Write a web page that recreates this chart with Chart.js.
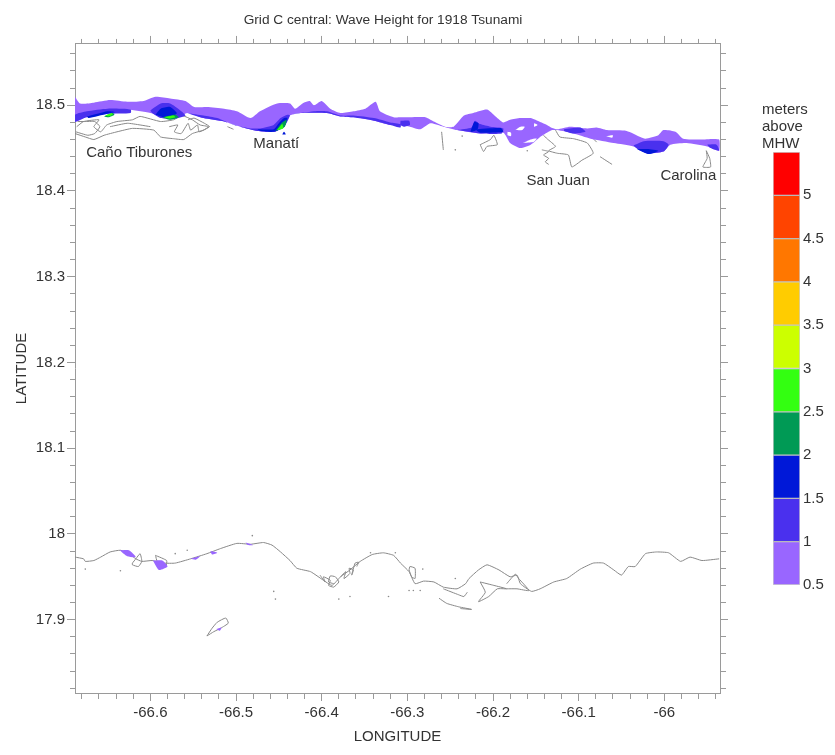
<!DOCTYPE html>
<html>
<head>
<meta charset="utf-8">
<title>Grid C central</title>
<script src="https://cdn.jsdelivr.net/npm/chart.js@4/dist/chart.umd.min.js"></script>
<style>
  html, body { margin: 0; padding: 0; background: #fff; }
  #wrap { position: relative; width: 835px; height: 755px; overflow: hidden; }
  #mapChart { position: absolute; left: 0; top: 0; }
  #barChart { position: absolute; left: 740px; top: 90px; }
</style>
</head>
<body>
<div id="wrap">
  <canvas id="mapChart" width="835" height="755"></canvas>
  <canvas id="barChart" width="95" height="515"></canvas>
</div>
<script>
const titleText = 'Grid C central: Wave Height for 1918 Tsunami';
const legendLines = ['meters', 'above', 'MHW'];
const bandEdges = [0.5, 1, 1.5, 2, 2.5, 3, 3.5, 4, 4.5, 5, 5.5];
const bandColors = ['#9966ff', '#4a30ee', '#0018d8', '#009a55', '#33ff11', '#ccff00', '#ffcc00', '#ff7700', '#ff4400', '#ff0000'];

const placeNames = ['Caño Tiburones', 'Manatí', 'San Juan', 'Carolina'];
const placeLon = [-66.613, -66.453, -66.124, -65.972];
const placeLat = [18.444, 18.455, 18.412, 18.4175];

// 0.5 - 1 m, north shore
const floodLight = [
  [-66.688,18.510],[-66.682,18.502],[-66.666,18.503],[-66.647,18.506],[-66.627,18.504],[-66.608,18.505],
  [-66.594,18.510],[-66.577,18.508],[-66.559,18.505],[-66.549,18.498],[-66.534,18.498],[-66.514,18.496],
  [-66.499,18.493],[-66.483,18.485],[-66.472,18.493],[-66.452,18.502],[-66.437,18.502],[-66.431,18.496],
  [-66.421,18.503],[-66.414,18.505],[-66.409,18.500],[-66.400,18.505],[-66.390,18.496],[-66.378,18.491],
  [-66.363,18.493],[-66.349,18.496],[-66.337,18.504],[-66.332,18.493],[-66.316,18.486],[-66.308,18.486],
  [-66.297,18.486],[-66.279,18.486],[-66.269,18.481],[-66.256,18.475],[-66.246,18.475],[-66.234,18.488],
  [-66.223,18.491],[-66.207,18.495],[-66.197,18.487],[-66.188,18.480],[-66.180,18.483],[-66.168,18.485],
  [-66.156,18.485],[-66.145,18.4805],[-66.137,18.477],[-66.131,18.4735],[-66.125,18.472],[-66.110,18.475],
  [-66.090,18.473],[-66.079,18.474],[-66.067,18.471],[-66.044,18.470],[-66.028,18.463],[-66.022,18.461],
  [-66.007,18.465],[-66.001,18.471],[-65.987,18.469],[-65.978,18.461],[-65.958,18.460],[-65.936,18.460],
  [-65.936,18.447],[-65.950,18.452],[-65.974,18.456],[-65.993,18.454],[-66.001,18.446],[-66.020,18.444],
  [-66.036,18.452],[-66.059,18.456],[-66.086,18.461],[-66.106,18.467],[-66.125,18.471],[-66.131,18.471],
  [-66.137,18.468],[-66.145,18.463],[-66.156,18.454],[-66.168,18.450],[-66.180,18.456],[-66.188,18.468],
  [-66.215,18.467],[-66.242,18.471],[-66.258,18.475],[-66.273,18.479],[-66.285,18.472],[-66.297,18.475],
  [-66.308,18.477],[-66.320,18.477],[-66.339,18.482],[-66.363,18.486],[-66.378,18.487],[-66.394,18.491],
  [-66.425,18.491],[-66.437,18.488],[-66.444,18.475],[-66.456,18.469],[-66.475,18.470],[-66.495,18.475],
  [-66.514,18.481],[-66.538,18.485],[-66.557,18.491],[-66.565,18.487],[-66.584,18.486],[-66.600,18.491],
  [-66.627,18.495],[-66.654,18.493],[-66.670,18.489],[-66.686,18.481],[-66.688,18.481]
];
// gaps left dry inside the 0.5 - 1 m area
const dryA = [[-66.174,18.471],[-66.168,18.475],[-66.163,18.475],[-66.166,18.471]];
const dryB = [[-66.165,18.456],[-66.156,18.460],[-66.149,18.461],[-66.153,18.457]];
const dryC = [[-66.183,18.469],[-66.179,18.468],[-66.179,18.464],[-66.183,18.465]];
const dryD = [[-66.152,18.479],[-66.148,18.477],[-66.152,18.475]];
const dryE = [[-66.068,18.464],[-66.060,18.465],[-66.061,18.462]];

// 0.5 - 1 m, south shore
const southA = [[-66.636,17.981],[-66.625,17.981],[-66.617,17.973],[-66.627,17.974]];
const southB = [[-66.597,17.969],[-66.586,17.969],[-66.580,17.962],[-66.590,17.958]];
const southC = [[-66.553,17.971],[-66.542,17.974],[-66.547,17.970]];
const southD = [[-66.530,17.980],[-66.522,17.978],[-66.528,17.976]];
const southE = [[-66.489,17.990],[-66.480,17.987],[-66.486,17.987]];
const southF = [[-66.523,17.889],[-66.517,17.891],[-66.519,17.887]];

// 1 - 1.5 m
const midA = [[-66.688,18.4805],[-66.688,18.489],[-66.674,18.493],[-66.650,18.496],[-66.623,18.495],[-66.623,18.491],[-66.650,18.490],[-66.674,18.486]];
const midB = [[-66.600,18.494],[-66.588,18.502],[-66.577,18.502],[-66.565,18.494],[-66.559,18.488],[-66.573,18.484],[-66.588,18.485],[-66.598,18.491]];
const midC = [[-66.557,18.491],[-66.538,18.488],[-66.522,18.485],[-66.510,18.480],[-66.499,18.476],[-66.483,18.473],[-66.472,18.473],[-66.456,18.477],[-66.448,18.485],[-66.440,18.489],[-66.437,18.488],[-66.444,18.475],[-66.456,18.469],[-66.475,18.470],[-66.495,18.475],[-66.514,18.481],[-66.538,18.485]];
const midD = [[-66.437,18.489],[-66.409,18.493],[-66.394,18.493],[-66.378,18.488],[-66.363,18.488],[-66.339,18.485],[-66.320,18.480],[-66.308,18.478],[-66.308,18.474],[-66.320,18.477],[-66.339,18.482],[-66.363,18.486],[-66.378,18.487],[-66.394,18.491],[-66.425,18.491]];
const midE = [[-66.308,18.482],[-66.298,18.482],[-66.297,18.477],[-66.304,18.475],[-66.308,18.477]];
const midF = [[-66.242,18.471],[-66.225,18.474],[-66.221,18.482],[-66.215,18.478],[-66.203,18.475],[-66.188,18.473],[-66.190,18.467],[-66.215,18.467]];
const midG = [[-66.117,18.472],[-66.098,18.474],[-66.092,18.469],[-66.106,18.467],[-66.117,18.470]];
const midH = [[-66.036,18.453],[-66.024,18.458],[-66.001,18.458],[-65.995,18.454],[-66.001,18.446],[-66.020,18.444],[-66.030,18.448]];
const midI = [[-65.950,18.454],[-65.939,18.454],[-65.936,18.447],[-65.946,18.450]];

// 1.5 - 2 m
const deepA = [[-66.594,18.489],[-66.588,18.496],[-66.577,18.498],[-66.569,18.491],[-66.573,18.488],[-66.584,18.486]];
const deepB = [[-66.475,18.472],[-66.456,18.472],[-66.450,18.479],[-66.444,18.485],[-66.440,18.485],[-66.444,18.475],[-66.456,18.469],[-66.471,18.470]];
const deepC = [[-66.222,18.481],[-66.217,18.479],[-66.218,18.472],[-66.226,18.469]];
const deepD = [[-66.032,18.449],[-66.020,18.449],[-66.007,18.447],[-66.018,18.443]];
const deepE = [[-66.446,18.466],[-66.444,18.469],[-66.442,18.466]];
const deepF = [[-66.221,18.472],[-66.191,18.4735],[-66.188,18.469],[-66.215,18.468]];
const deepG = [[-66.674,18.487],[-66.650,18.493],[-66.641,18.492],[-66.650,18.490],[-66.672,18.485]];

// 2 - 2.5 m
const greenA = [[-66.654,18.487],[-66.644,18.491],[-66.642,18.489],[-66.649,18.486]];
const greenB = [[-66.586,18.486],[-66.571,18.489],[-66.567,18.486],[-66.577,18.483]];
const greenC = [[-66.454,18.470],[-66.447,18.479],[-66.441,18.483],[-66.443,18.475]];

// 2.5 - 3 m
const limeA = [[-66.653,18.488],[-66.645,18.491],[-66.644,18.489],[-66.649,18.487]];
const limeB = [[-66.584,18.486],[-66.573,18.488],[-66.571,18.486],[-66.578,18.4845]];
const limeC = [[-66.452,18.471],[-66.446,18.478],[-66.445,18.473]];

// coast outlines
const southCoast = [
  [-66.688,17.973],[-66.678,17.971],[-66.676,17.968],[-66.666,17.969],[-66.658,17.973],[-66.647,17.979],
  [-66.635,17.981],[-66.625,17.977],[-66.617,17.971],[-66.610,17.968],[-66.598,17.969],[-66.584,17.966],
  [-66.571,17.966],[-66.553,17.971],[-66.534,17.977],[-66.518,17.983],[-66.499,17.989],[-66.483,17.988],
  [-66.468,17.990],[-66.458,17.987],[-66.448,17.979],[-66.437,17.969],[-66.429,17.960],[-66.413,17.956],
  [-66.398,17.946],[-66.388,17.940],[-66.378,17.950],[-66.367,17.958],[-66.355,17.968],[-66.341,17.976],
  [-66.328,17.978],[-66.316,17.975],[-66.308,17.966],[-66.298,17.956],[-66.291,17.942],[-66.281,17.945],
  [-66.269,17.944],[-66.258,17.938],[-66.242,17.936],[-66.232,17.942],[-66.228,17.948],[-66.217,17.958],
  [-66.207,17.964],[-66.193,17.958],[-66.180,17.950],[-66.172,17.952],[-66.168,17.942],[-66.155,17.933],
  [-66.145,17.936],[-66.129,17.944],[-66.114,17.948],[-66.098,17.959],[-66.083,17.966],[-66.071,17.966],
  [-66.059,17.958],[-66.050,17.952],[-66.042,17.962],[-66.034,17.962],[-66.022,17.977],[-66.009,17.979],
  [-65.995,17.978],[-65.981,17.968],[-65.970,17.973],[-65.956,17.969],[-65.936,17.971]
];
const loopA = [[-66.402,17.952],[-66.396,17.944],[-66.398,17.950],[-66.390,17.946],[-66.392,17.940],[-66.386,17.938],[-66.380,17.944],[-66.384,17.950],[-66.390,17.951],[-66.392,17.944],[-66.386,17.942]];
const loopB = [[-66.378,17.950],[-66.372,17.956],[-66.374,17.948],[-66.367,17.954],[-66.368,17.960],[-66.363,17.958],[-66.365,17.952],[-66.361,17.966],[-66.357,17.967],[-66.359,17.962]];
const loopC = [[-66.621,17.966],[-66.617,17.971],[-66.612,17.977],[-66.610,17.968],[-66.614,17.962],[-66.621,17.964],[-66.621,17.966]];
const loopD = [[-66.594,17.975],[-66.581,17.969],[-66.582,17.962],[-66.592,17.968],[-66.594,17.975]];
const loopE = [[-66.298,17.958],[-66.297,17.962],[-66.291,17.960],[-66.291,17.948],[-66.295,17.950],[-66.298,17.958]];
const keysA = [[-66.258,17.936],[-66.240,17.929],[-66.234,17.927],[-66.230,17.932]];
const keysB = [[-66.263,17.925],[-66.254,17.919],[-66.240,17.915],[-66.225,17.912],[-66.238,17.913]];
const keysC = [[-66.215,17.944],[-66.199,17.940],[-66.184,17.936],[-66.195,17.936],[-66.205,17.927],[-66.217,17.921],[-66.209,17.932],[-66.215,17.944]];
const keysD = [[-66.184,17.942],[-66.174,17.953],[-66.170,17.948],[-66.158,17.934],[-66.172,17.936],[-66.184,17.936]];
const cajaIsland = [[-66.534,17.881],[-66.528,17.890],[-66.522,17.897],[-66.512,17.902],[-66.509,17.896],[-66.518,17.890],[-66.526,17.886],[-66.534,17.881]];

const canoOutline = [
  [-66.688,18.467],[-66.676,18.463],[-66.666,18.460],[-66.654,18.465],[-66.639,18.469],[-66.621,18.473],
  [-66.596,18.471],[-66.588,18.463],[-66.573,18.461],[-66.561,18.460],[-66.551,18.467],[-66.538,18.471],
  [-66.532,18.475],[-66.542,18.477],[-66.551,18.483],[-66.563,18.488],[-66.573,18.483],[-66.588,18.481],
  [-66.612,18.487],[-66.621,18.483],[-66.639,18.481],[-66.651,18.477],[-66.658,18.469],[-66.666,18.475],
  [-66.660,18.483],[-66.678,18.481],[-66.686,18.475]
];
const canoInnerA = [[-66.647,18.475],[-66.627,18.479],[-66.612,18.477],[-66.600,18.475]];
const canoInnerB = [[-66.578,18.475],[-66.568,18.477],[-66.572,18.469],[-66.564,18.467],[-66.556,18.479],[-66.553,18.471],[-66.545,18.477],[-66.543,18.469],[-66.531,18.475],[-66.537,18.479],[-66.549,18.485],[-66.556,18.483]];
const canoInnerC = [[-66.687,18.469],[-66.673,18.465],[-66.665,18.467],[-66.659,18.475],[-66.665,18.481],[-66.677,18.481],[-66.685,18.481]];
const northDashA = [[-66.510,18.475],[-66.503,18.472]];
const northDashB = [[-66.260,18.469],[-66.258,18.448]];
const northLoop = [[-66.215,18.454],[-66.203,18.460],[-66.199,18.465],[-66.195,18.454],[-66.207,18.452],[-66.211,18.446],[-66.215,18.454]];
const sanJuanBay = [[-66.127,18.471],[-66.122,18.463],[-66.106,18.461],[-66.090,18.456],[-66.083,18.444],[-66.096,18.436],[-66.108,18.428],[-66.112,18.442],[-66.125,18.444],[-66.135,18.447],[-66.127,18.452],[-66.137,18.461],[-66.141,18.465]];
const sanJuanKnot = [[-66.143,18.448],[-66.135,18.446],[-66.141,18.442],[-66.135,18.438],[-66.139,18.434],[-66.135,18.431]];
const sanJuanDashA = [[-66.075,18.440],[-66.061,18.431]];
const sanJuanDashB = [[-66.085,18.463],[-66.079,18.457]];
const carolinaInlet = [[-65.951,18.447],[-65.947,18.438],[-65.946,18.428],[-65.955,18.428],[-65.950,18.438],[-65.951,18.447]];

// isolated rocks and cays
const specks = [
  [-66.481,17.998],[-66.571,17.977],[-66.557,17.981],[-66.456,17.933],[-66.454,17.924],[-66.380,17.924],
  [-66.367,17.927],[-66.322,17.927],[-66.343,17.978],[-66.314,17.978],[-66.635,17.957],[-66.676,17.959],
  [-66.282,17.959],[-66.298,17.934],[-66.293,17.934],[-66.285,17.934],[-66.244,17.948],
  [-66.244,18.448],[-66.160,18.447],[-66.236,18.464]
];

const toPoints = arr => arr.map(p => ({ x: p[0], y: p[1] }));

function area(arr, color) {
  const closed = toPoints(arr.concat([arr[0]]));
  return { data: closed, showLine: true, pointRadius: 0, borderWidth: 0, tension: 0.2, backgroundColor: color, borderColor: color, fill: 'shape' };
}
function outline(arr) {
  return { data: toPoints(arr), showLine: true, pointRadius: 0, borderWidth: 1, tension: 0.15, borderColor: '#888888', fill: false };
}

// first dataset ends up on top
const datasets = [].concat(
  [limeA, limeB, limeC].map(a => area(a, bandColors[4])),
  [greenA, greenB, greenC].map(a => area(a, bandColors[3])),
  [deepA, deepB, deepC, deepD, deepE, deepF, deepG].map(a => area(a, bandColors[2])),
  [midA, midB, midC, midD, midE, midF, midG, midH, midI].map(a => area(a, bandColors[1])),
  [dryA, dryB, dryC, dryD, dryE].map(a => area(a, '#ffffff')),
  [floodLight, southA, southB, southC, southD, southE, southF].map(a => area(a, bandColors[0])),
  [southCoast, loopA, loopB, loopC, loopD, loopE, keysA, keysB, keysC, keysD, cajaIsland,
   canoOutline, canoInnerA, canoInnerB, canoInnerC, northDashA, northDashB, northLoop,
   sanJuanBay, sanJuanKnot, sanJuanDashA, sanJuanDashB, carolinaInlet].map(outline),
  [{ data: toPoints(specks), pointRadius: 0.8, pointBorderWidth: 0, pointBackgroundColor: '#8a8a8a' }]
);

const axisColor = '#9a9a9a';
const textColor = '#333';
const fontFamily = '"Liberation Sans", Arial, sans-serif';
const lonRange = { min: -66.688, max: -65.935 };
const latRange = { min: 17.8145, max: 18.5715 };
const isTenth = v => Math.abs(v * 10 - Math.round(v * 10)) < 1e-6;
const tenthLabel = v => isTenth(v) ? String(Math.round(v * 10) / 10) : '';

// tenths get the full tick, the rest are cut short with a dash
function tickDash(outerFirst) {
  return c => {
    if (!c.tick || isTenth(c.tick.value)) return [];
    return outerFirst ? [0, 3, 6, 20] : [5, 20];
  };
}

function frameScale(position, range, extra) {
  const outerFirst = position === 'top' || position === 'left';
  return Object.assign({
    type: 'linear',
    position,
    min: range.min,
    max: range.max,
    border: { color: axisColor, width: 1 },
    grid: { drawOnChartArea: false, color: axisColor, tickLength: 8, tickWidth: 1, tickBorderDash: tickDash(outerFirst) },
    ticks: { stepSize: 0.02, includeBounds: false, autoSkip: false, maxRotation: 0, display: false, callback: tenthLabel }
  }, extra);
}

const placeLabels = {
  id: 'placeLabels',
  afterDatasetsDraw(chart) {
    const { ctx, scales } = chart;
    ctx.save();
    ctx.font = '15px ' + fontFamily;
    ctx.fillStyle = textColor;
    ctx.textAlign = 'center';
    ctx.textBaseline = 'middle';
    placeNames.forEach((name, i) => {
      ctx.fillText(name, scales.x.getPixelForValue(placeLon[i]), scales.y.getPixelForValue(placeLat[i]));
    });
    ctx.restore();
  }
};

new Chart(document.getElementById('mapChart'), {
  type: 'scatter',
  data: { datasets },
  plugins: [placeLabels],
  options: {
    responsive: false,
    animation: false,
    layout: { padding: { right: 69 } },
    plugins: {
      legend: { display: false },
      tooltip: { enabled: false },
      title: {
        display: true,
        text: titleText,
        color: textColor,
        font: { family: fontFamily, size: 13.7, weight: 'normal' },
        padding: { top: 12, bottom: 4 }
      }
    },
    scales: {
      x: frameScale('bottom', lonRange, {
        title: { display: true, text: 'LONGITUDE', color: textColor, font: { family: fontFamily, size: 15 }, padding: { top: 0, bottom: 9 } },
        ticks: { stepSize: 0.02, includeBounds: false, autoSkip: false, maxRotation: 0, padding: 3, color: textColor, font: { family: fontFamily, size: 15 }, callback: tenthLabel },
        afterFit(s) { s.height = 62; }
      }),
      x2: frameScale('top', lonRange, { afterFit(s) { s.height = 11.5; } }),
      y: frameScale('left', latRange, {
        title: { display: true, text: 'LATITUDE', color: textColor, font: { family: fontFamily, size: 15 }, padding: { top: 13, bottom: 0 } },
        ticks: { stepSize: 0.02, includeBounds: false, autoSkip: false, padding: 2, color: textColor, font: { family: fontFamily, size: 15 }, callback: tenthLabel },
        afterFit(s) { s.width = 75; }
      }),
      y2: frameScale('right', latRange, { afterFit(s) { s.width = 46; } })
    }
  }
});

// colour key
const legendHeader = {
  id: 'legendHeader',
  afterDraw(chart) {
    const { ctx } = chart;
    ctx.save();
    ctx.font = '15px ' + fontFamily;
    ctx.fillStyle = textColor;
    ctx.textAlign = 'left';
    ctx.textBaseline = 'middle';
    legendLines.forEach((line, i) => ctx.fillText(line, 22, 20 + i * 17));
    ctx.restore();
  }
};

new Chart(document.getElementById('barChart'), {
  type: 'bar',
  data: {
    labels: ['key'],
    datasets: bandColors.map((color, i) => ({
      data: [[bandEdges[i], bandEdges[i + 1]]],
      backgroundColor: color,
      borderColor: 'rgba(90,90,90,0.3)',
      borderWidth: 1,
      borderSkipped: false,
      barPercentage: 1,
      categoryPercentage: 1,
      grouped: false
    }))
  },
  plugins: [legendHeader],
  options: {
    responsive: false,
    animation: false,
    layout: { padding: { left: 33, top: 62, bottom: 20 } },
    plugins: { legend: { display: false }, tooltip: { enabled: false }, title: { display: false } },
    scales: {
      x: { display: false },
      y: {
        position: 'right',
        min: 0.5,
        max: 5.5,
        border: { display: false },
        grid: { drawOnChartArea: false, drawTicks: false },
        ticks: {
          stepSize: 0.5,
          padding: 3,
          color: textColor,
          font: { family: fontFamily, size: 15 },
          callback: v => v === 5.5 ? '' : String(v)
        },
        afterFit(s) { s.width = 35; }
      }
    }
  }
});
</script>
</body>
</html>
